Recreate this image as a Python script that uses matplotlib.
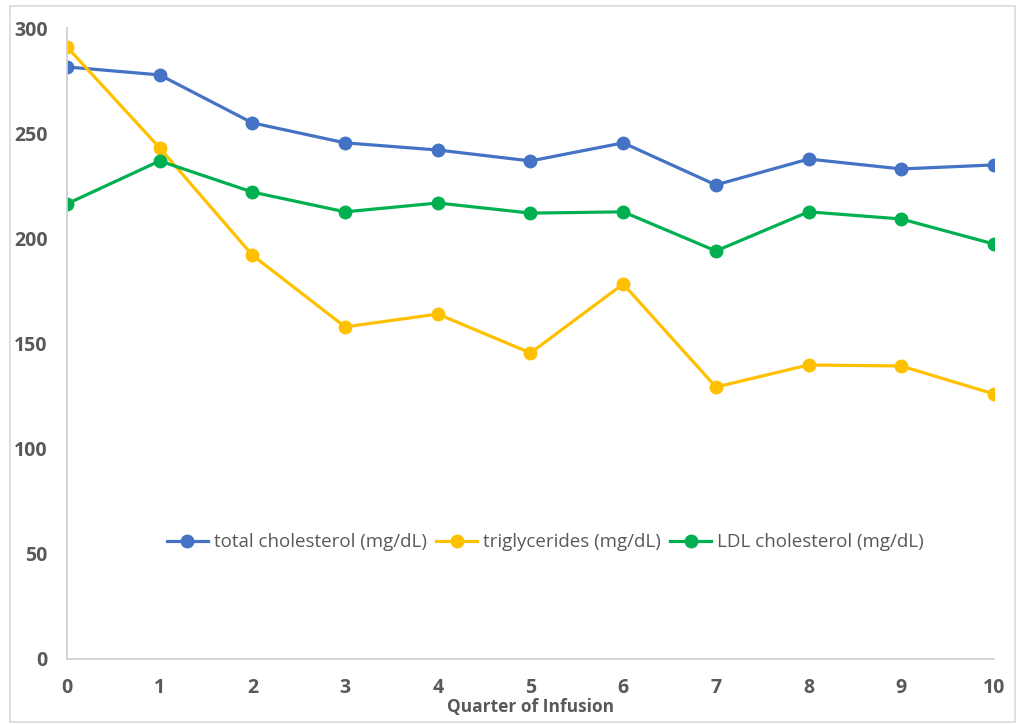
import matplotlib.pyplot as plt
from matplotlib.patches import Rectangle

plt.rcParams['font.family'] = ['Open Sans', 'DejaVu Sans']

# data
quarters = list(range(0, 11))
total_chol = [281.5, 277.7, 254.9, 245.4, 242.0, 236.8, 245.4, 225.4, 237.7, 233.0, 234.9]
triglycerides = [291.0, 243.0, 192.0, 157.9, 164.0, 145.5, 178.3, 129.3, 139.8, 139.3, 126.0]
ldl_chol = [216.4, 236.8, 222.0, 212.6, 216.8, 212.0, 212.6, 194.0, 212.6, 209.2, 197.3]

fig = plt.figure(figsize=(10.18, 7.24), dpi=100)
ax = fig.add_axes([0.0658, 0.0898, 0.9106, 0.8715])

# light frame around the whole chart
fig.patches.append(Rectangle((0.01, 0.003), 0.987, 0.989, transform=fig.transFigure,
                             fill=False, edgecolor='#d9d9d9', linewidth=1.2))

ax.plot(quarters, total_chol, marker='o', color='#4472C4', linewidth=2.3,
        markersize=9, label='total cholesterol (mg/dL)')
ax.plot(quarters, triglycerides, marker='o', color='#FFC000', linewidth=2.3,
        markersize=9, label='triglycerides (mg/dL)')
ax.plot(quarters, ldl_chol, marker='o', color='#00B050', linewidth=2.3,
        markersize=9, label='LDL cholesterol (mg/dL)')

ax.set_xlim(0, 10)
ax.set_ylim(0, 300)
ax.set_xticks(quarters)
ax.set_yticks([0, 50, 100, 150, 200, 250, 300])

for side in ['top', 'right']:
    ax.spines[side].set_visible(False)
for side in ['left', 'bottom']:
    ax.spines[side].set_color('#d0d0d0')
    ax.spines[side].set_linewidth(1.3)
ax.tick_params(length=0, labelsize=14, labelcolor='#595959', pad=14)
ax.tick_params(axis='y', pad=14)
for lab in ax.get_xticklabels() + ax.get_yticklabels():
    lab.set_fontweight('bold')

ax.set_xlabel('Quarter of Infusion', fontsize=12.5, fontweight='bold', color='#595959', labelpad=0)

ax.legend(loc='center', bbox_to_anchor=(0.516, 0.185), ncol=3, frameon=False,
          fontsize=13.5, labelcolor='#595959', handlelength=2.2, handletextpad=0.3,
          columnspacing=0.5)

fig.savefig('out.png', dpi=100)
